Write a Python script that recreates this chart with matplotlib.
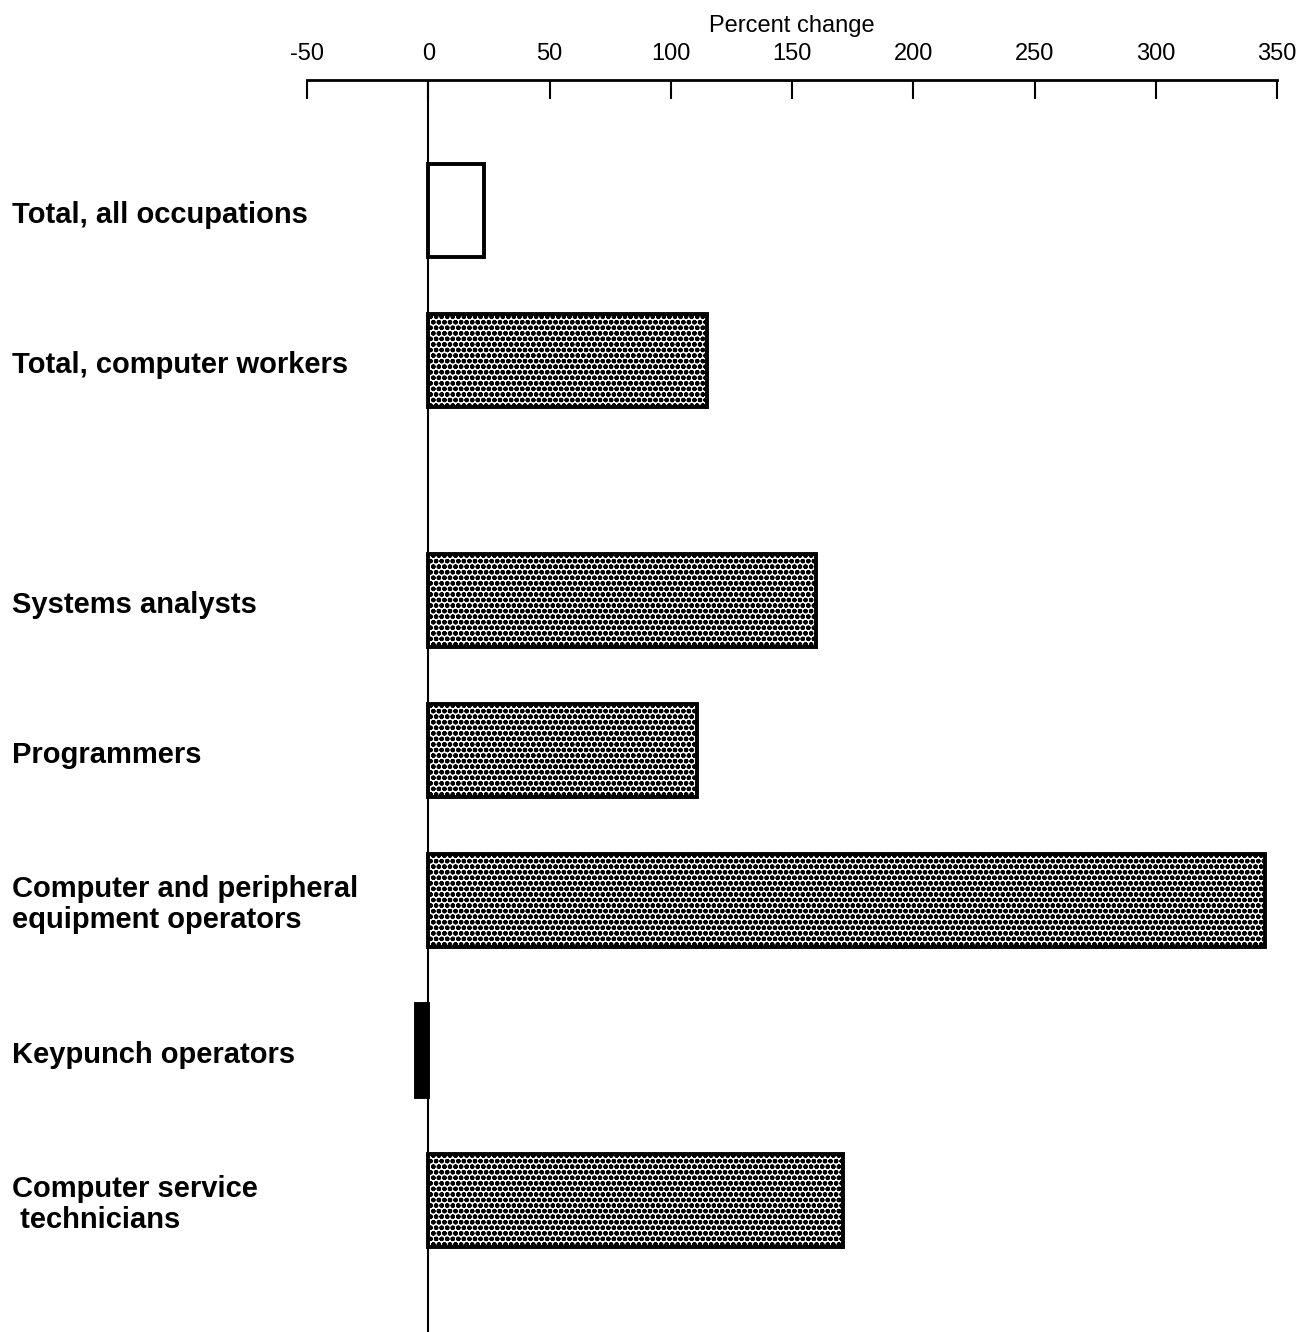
import matplotlib
matplotlib.use("Agg")
import matplotlib.pyplot as plt
import matplotlib.transforms as mtransforms

plt.rcParams['font.family'] = ['Liberation Sans', 'DejaVu Sans']
plt.rcParams['hatch.linewidth'] = 1.6

# data
occupations = ["Total, all occupations",
               "Total, computer workers",
               "Systems analysts",
               "Programmers",
               "Computer and peripheral\nequipment operators",
               "Keypunch operators",
               "Computer service\n technicians"]
pct_change = [23, 115, 160, 111, 345, -5, 171]
tick_values = [-50, 0, 50, 100, 150, 200, 250, 300, 350]

# category slots, with an empty gap after the two totals
ypos = [0, 1, 2.6, 3.6, 4.6, 5.6, 6.6]

fig = plt.figure(figsize=(13.15, 13.32), dpi=100)
ax = fig.add_axes([307/1315, 0, (1277-307)/1315, 1 - 80/1332])

for i, (y, v) in enumerate(zip(ypos, pct_change)):
    if i == 0:
        ax.barh(y, v, height=0.62, color="white", edgecolor="black", linewidth=2.8)
    elif v < 0:
        ax.barh(y, v, height=0.62, color="black", edgecolor="black", linewidth=2.8)
    else:
        ax.barh(y, v, height=0.62, color="white", edgecolor="black", linewidth=2.8,
                hatch="ooo")

ax.axvline(0, color="black", linewidth=1.5)

ax.set_xlim(-50, 350)
ax.set_ylim(7.48, -0.867)
ax.xaxis.tick_top()
ax.xaxis.set_label_position("top")
ax.set_xticks(tick_values)
ax.set_xticklabels([str(t) for t in tick_values], fontsize=17)
ax.tick_params(axis="x", direction="in", length=14, width=1.5, pad=11)
ax.set_xlabel("Percent change", fontsize=17, labelpad=8)
ax.set_yticks([])
for s in ["left", "right", "bottom"]:
    ax.spines[s].set_visible(False)
ax.spines["top"].set_linewidth(2)

trans = mtransforms.blended_transform_factory(fig.transFigure, ax.transData)
for y, name in zip(ypos, occupations):
    ax.text(12/1315, y + 0.03, name, transform=trans, ha="left", va="center",
            fontsize=21, fontweight="bold", linespacing=1.1)

plt.savefig("out.png", dpi=100)
